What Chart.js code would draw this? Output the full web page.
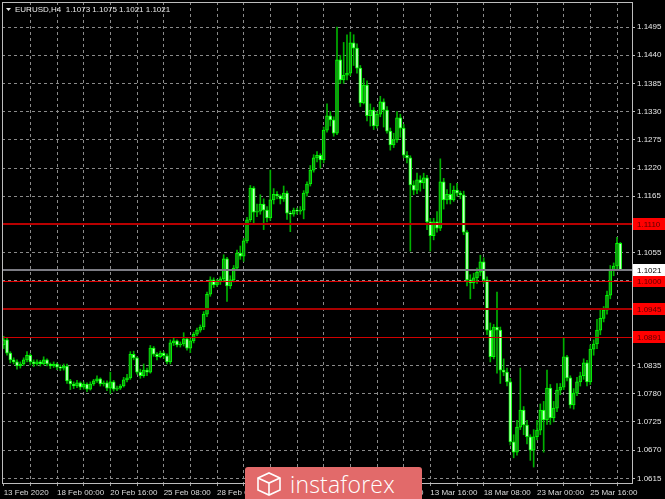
<!DOCTYPE html>
<html>
<head>
<meta charset="utf-8">
<script src="https://cdn.jsdelivr.net/npm/chart.js@4.4.0/dist/chart.umd.min.js"></script>
<style>
  html, body { margin: 0; padding: 0; background: #000; }
  #wrap { position: relative; width: 665px; height: 499px; overflow: hidden; }
  #logo {
    position: absolute; left: 245px; top: 467px; width: 177px; height: 40px;
    background: #e26a6a; border-radius: 3px; color: #fff;
    font-family: "Open Sans", sans-serif; font-size: 23px; font-weight: 300;
  }
  #logo svg { position: absolute; left: 10px; top: 5px; }
  #logo span { position: absolute; left: 45px; top: 1px; letter-spacing: 0.2px; }
</style>
</head>
<body>
<div id="wrap">
  <canvas id="chart" width="665" height="499"></canvas>
  <div id="logo">
    <svg width="28" height="24" viewBox="0 0 28 24" fill="none" stroke="#fff" stroke-width="1.6">
      <path d="M3 6 L14 1 L25 6 L25 18 L14 23 L3 18 Z"/>
      <path d="M3 6 L14 11 L25 6 M14 11 L14 23"/>
    </svg>
    <span>instaforex</span>
  </div>
</div>
<script>
// EURUSD H4, 13 Feb 2020 - 27 Mar 2020
const symbol = 'EURUSD,H4';

const opens = [
  1.0875,1.0885,1.0859,1.0846,1.0842,1.0834,1.0838,1.0846,1.0855,1.0842,
  1.0838,1.0842,1.0838,1.0846,1.0838,1.0834,1.0838,1.0832,1.0830,1.0834,
  1.0805,1.0799,1.0795,1.0801,1.0793,1.0799,1.0789,1.0799,1.0805,1.0809,
  1.0799,1.0801,1.0791,1.0803,1.0789,1.0791,1.0795,1.0807,1.0811,1.0857,
  1.0850,1.0822,1.0815,1.0826,1.0822,1.0869,1.0857,1.0852,1.0859,1.0854,
  1.0842,1.0879,1.0883,1.0875,1.0877,1.0887,1.0869,1.0883,1.0896,1.0904,
  1.0910,1.0935,1.0974,1.1002,1.0992,1.0998,1.1004,1.1043,1.0990,1.1002,
  1.1025,1.1054,1.1048,1.1078,1.1119,1.1181,1.1134,1.1136,1.1150,1.1138,
  1.1123,1.1158,1.1169,1.1166,1.1160,1.1171,1.1132,1.1130,1.1138,1.1136,
  1.1138,1.1171,1.1189,1.1216,1.1240,1.1245,1.1236,1.1294,1.1322,1.1314,
  1.1288,1.1431,1.1392,1.1401,1.1405,1.1464,1.1454,1.1415,1.1347,1.1382,
  1.1322,1.1333,1.1302,1.1325,1.1349,1.1333,1.1292,1.1265,1.1275,1.1318,
  1.1298,1.1245,1.1240,1.1187,1.1177,1.1197,1.1191,1.1201,1.1115,1.1088,
  1.1115,1.1103,1.1193,1.1158,1.1169,1.1158,1.1177,1.1171,1.1168,1.1095,
  1.1002,1.0996,1.1006,1.1017,1.1037,1.1002,1.0904,1.0852,1.0910,1.0904,
  1.0826,1.0822,1.0803,1.0686,1.0666,1.0715,1.0748,1.0719,1.0696,1.0670,
  1.0696,1.0709,1.0748,1.0729,1.0791,1.0733,1.0752,1.0787,1.0793,1.0852,
  1.0811,1.0758,1.0781,1.0803,1.0815,1.0840,1.0803,1.0867,1.0877,1.0904,
  1.0927,1.0943,1.0972,1.1021,1.1029,1.1073
];
const highs = [
  1.0892,1.0888,1.0862,1.0850,1.0846,1.0842,1.0850,1.0862,1.0858,1.0846,
  1.0846,1.0845,1.0852,1.0848,1.0840,1.0842,1.0840,1.0836,1.0838,1.0838,
  1.0808,1.0803,1.0806,1.0803,1.0803,1.0801,1.0803,1.0808,1.0815,1.0811,
  1.0805,1.0805,1.0822,1.0806,1.0795,1.0798,1.0812,1.0818,1.0862,1.0863,
  1.0852,1.0828,1.0838,1.0830,1.0874,1.0872,1.0860,1.0863,1.0862,1.0858,
  1.0885,1.0889,1.0885,1.0881,1.0899,1.0890,1.0887,1.0900,1.0908,1.0914,
  1.0940,1.0978,1.1008,1.1006,1.1003,1.1008,1.1051,1.1046,1.1010,1.1030,
  1.1060,1.1068,1.1083,1.1124,1.1186,1.1184,1.1150,1.1168,1.1160,1.1145,
  1.1216,1.1180,1.1174,1.1168,1.1185,1.1175,1.1136,1.1142,1.1142,1.1145,
  1.1176,1.1193,1.1225,1.1246,1.1252,1.1248,1.1300,1.1345,1.1330,1.1320,
  1.1495,1.1440,1.1465,1.1480,1.1485,1.1480,1.1462,1.1420,1.1395,1.1390,
  1.1345,1.1338,1.1330,1.1360,1.1355,1.1340,1.1298,1.1288,1.1330,1.1325,
  1.1305,1.1252,1.1244,1.1195,1.1210,1.1205,1.1210,1.1206,1.1122,1.1122,
  1.1135,1.1238,1.1200,1.1178,1.1190,1.1185,1.1190,1.1175,1.1175,1.1098,
  1.1012,1.1015,1.1025,1.1050,1.1045,1.1008,1.0918,1.0915,1.0978,1.0910,
  1.0848,1.0830,1.0810,1.0700,1.0728,1.0830,1.0755,1.0728,1.0700,1.0710,
  1.0728,1.0760,1.0765,1.0826,1.0798,1.0765,1.0800,1.0800,1.0888,1.0855,
  1.0815,1.0790,1.0812,1.0822,1.0848,1.0845,1.0875,1.0885,1.0925,1.0945,
  1.0950,1.0980,1.1030,1.1035,1.1085,1.1075
];
const lows = [
  1.0868,1.0855,1.0840,1.0838,1.0828,1.0830,1.0835,1.0842,1.0836,1.0833,
  1.0835,1.0834,1.0836,1.0834,1.0829,1.0831,1.0827,1.0825,1.0826,1.0800,
  1.0788,1.0790,1.0792,1.0788,1.0789,1.0784,1.0787,1.0796,1.0802,1.0795,
  1.0795,1.0786,1.0780,1.0785,1.0786,1.0788,1.0793,1.0803,1.0808,1.0846,
  1.0818,1.0810,1.0812,1.0815,1.0820,1.0853,1.0846,1.0850,1.0849,1.0838,
  1.0838,1.0874,1.0871,1.0871,1.0873,1.0865,1.0860,1.0879,1.0893,1.0900,
  1.0905,1.0930,1.0970,1.0987,1.0989,1.0993,1.0998,1.0960,1.0985,1.0998,
  1.1020,1.1042,1.1038,1.1074,1.1115,1.1110,1.1125,1.1130,1.1100,1.1115,
  1.1118,1.1150,1.1160,1.1150,1.1155,1.1120,1.1096,1.1126,1.1130,1.1130,
  1.1121,1.1165,1.1185,1.1212,1.1232,1.1220,1.1230,1.1290,1.1302,1.1282,
  1.1285,1.1385,1.1385,1.1392,1.1400,1.1420,1.1405,1.1340,1.1345,1.1312,
  1.1302,1.1295,1.1298,1.1320,1.1300,1.1288,1.1255,1.1260,1.1270,1.1280,
  1.1240,1.1230,1.1058,1.1168,1.1170,1.1175,1.1180,1.1100,1.1058,1.1080,
  1.1095,1.1098,1.1140,1.1150,1.1150,1.1155,1.1165,1.1160,1.1090,1.0990,
  1.0965,1.0985,1.0995,1.1010,1.0995,1.0895,1.0842,1.0848,1.0820,1.0800,
  1.0815,1.0795,1.0680,1.0655,1.0660,1.0710,1.0700,1.0682,1.0650,1.0637,
  1.0690,1.0700,1.0666,1.0720,1.0720,1.0725,1.0745,1.0778,1.0788,1.0805,
  1.0752,1.0750,1.0776,1.0795,1.0808,1.0795,1.0798,1.0855,1.0868,1.0895,
  1.0920,1.0935,1.0965,1.1010,1.1020,1.1021
];
const closes = [
  1.0885,1.0859,1.0846,1.0842,1.0834,1.0838,1.0846,1.0855,1.0842,1.0838,
  1.0842,1.0838,1.0846,1.0838,1.0834,1.0838,1.0832,1.0830,1.0834,1.0805,
  1.0799,1.0795,1.0801,1.0793,1.0799,1.0789,1.0799,1.0805,1.0809,1.0799,
  1.0801,1.0791,1.0803,1.0789,1.0791,1.0795,1.0807,1.0811,1.0857,1.0850,
  1.0822,1.0815,1.0826,1.0822,1.0869,1.0857,1.0852,1.0859,1.0854,1.0842,
  1.0879,1.0883,1.0875,1.0877,1.0887,1.0869,1.0883,1.0896,1.0904,1.0910,
  1.0935,1.0974,1.1002,1.0992,1.0998,1.1004,1.1043,1.0990,1.1002,1.1025,
  1.1054,1.1048,1.1078,1.1119,1.1181,1.1134,1.1136,1.1150,1.1138,1.1123,
  1.1158,1.1169,1.1166,1.1160,1.1171,1.1132,1.1130,1.1138,1.1136,1.1138,
  1.1171,1.1189,1.1216,1.1240,1.1245,1.1236,1.1294,1.1322,1.1314,1.1288,
  1.1431,1.1392,1.1401,1.1405,1.1464,1.1454,1.1415,1.1347,1.1382,1.1322,
  1.1333,1.1302,1.1325,1.1349,1.1333,1.1292,1.1265,1.1275,1.1318,1.1298,
  1.1245,1.1240,1.1187,1.1177,1.1197,1.1191,1.1201,1.1115,1.1088,1.1115,
  1.1103,1.1193,1.1158,1.1169,1.1158,1.1177,1.1171,1.1168,1.1095,1.1002,
  1.0996,1.1006,1.1017,1.1037,1.1002,1.0904,1.0852,1.0910,1.0904,1.0826,
  1.0822,1.0803,1.0686,1.0666,1.0715,1.0748,1.0719,1.0696,1.0670,1.0696,
  1.0709,1.0748,1.0729,1.0791,1.0733,1.0752,1.0787,1.0793,1.0852,1.0811,
  1.0758,1.0781,1.0803,1.0815,1.0840,1.0803,1.0867,1.0877,1.0904,1.0927,
  1.0943,1.0972,1.1021,1.1029,1.1073,1.1021
];

// time axis labels, one every 16 bars
const timeLabels = ['13 Feb 2020', '18 Feb 00:00', '20 Feb 16:00', '25 Feb 08:00', '28 Feb 00:00',
  '03 Mar 16:00', '06 Mar 08:00', '11 Mar 00:00', '13 Mar 16:00', '18 Mar 08:00', '23 Mar 00:00', '25 Mar 16:00'];
const priceTicks = [1.1495, 1.1440, 1.1385, 1.1330, 1.1275, 1.1220, 1.1165, 1.1110, 1.1055,
  1.1000, 1.0945, 1.0890, 1.0835, 1.0780, 1.0725, 1.0670, 1.0615];
const levels = [1.1110, 1.1000, 1.0945, 1.0891];
const lastPrice = 1.1021;

const levelStyle = [
  { color: '#b80000', width: 2 },
  { color: '#e00000', width: 1 },
  { color: '#a80000', width: 2 },
  { color: '#d00000', width: 1 }
];
const font = "'Liberation Sans', sans-serif";

const slots = [];
for (let i = 0; i < closes.length + 3; i++) slots.push(i);

const overlay = {
  id: 'overlay',
  afterDatasetsDraw(chart) {
    const { ctx, chartArea: a, scales: { y } } = chart;
    ctx.save();
    // current price line
    let py = Math.round(y.getPixelForValue(lastPrice));
    ctx.strokeStyle = '#7c7c84';
    ctx.lineWidth = 2;
    ctx.beginPath(); ctx.moveTo(a.left, py); ctx.lineTo(a.right, py); ctx.stroke();
    levels.forEach((lv, k) => {
      const s = levelStyle[k];
      const p = Math.round(y.getPixelForValue(lv)) + (s.width === 1 ? 0.5 : 0);
      ctx.strokeStyle = s.color;
      ctx.lineWidth = s.width;
      ctx.beginPath(); ctx.moveTo(a.left, p); ctx.lineTo(a.right, p); ctx.stroke();
    });
    ctx.restore();
  },
  afterDraw(chart) {
    const { ctx, chartArea: a, scales: { y } } = chart;
    ctx.save();
    // frame
    ctx.strokeStyle = '#bdbdbd';
    ctx.lineWidth = 1;
    ctx.strokeRect(a.left + 0.5, a.top + 0.5, a.width, a.height);
    // price labels on the right
    ctx.font = '8px ' + font;
    ctx.textBaseline = 'middle';
    const box = (v, bg, fg) => {
      const p = Math.round(y.getPixelForValue(v));
      ctx.fillStyle = bg;
      ctx.fillRect(a.right + 1, p - 6, 32, 12);
      ctx.fillStyle = fg;
      ctx.fillText(v.toFixed(4), a.right + 5, p + 0.5);
    };
    levels.forEach(lv => box(lv, '#ff0000', '#5a0000'));
    box(lastPrice, '#ffffff', '#000000');
    // header
    const n = closes.length - 1;
    ctx.fillStyle = '#e8e8e8';
    ctx.beginPath(); ctx.moveTo(6, 8); ctx.lineTo(11, 8); ctx.lineTo(8.5, 11); ctx.closePath(); ctx.fill();
    ctx.fillText(symbol + '  ' + [opens[n], highs[n], lows[n], closes[n]].map(v => v.toFixed(4)).join(' '), 15, 9.5);
    ctx.restore();
  }
};

new Chart(document.getElementById('chart'), {
  type: 'bar',
  data: {
    labels: slots,
    datasets: [
      {
        label: 'body',
        data: opens.map((o, i) => [o, closes[i]]),
        backgroundColor: closes.map((c, i) => c < opens[i] ? '#c8ffc8' : '#148c14'),
        borderColor: '#00ff00',
        borderWidth: 1,
        borderSkipped: false,
        barThickness: 3,
        minBarLength: 1,
        grouped: false,
        order: 1
      },
      {
        label: 'wick',
        data: lows.map((l, i) => [l, highs[i]]),
        backgroundColor: '#00b000',
        barThickness: 1,
        grouped: false,
        order: 2
      }
    ]
  },
  options: {
    responsive: false,
    devicePixelRatio: 1,
    animation: false,
    layout: { padding: { top: 2, left: 2, right: 0, bottom: 0 } },
    plugins: { legend: { display: false }, tooltip: { enabled: false } },
    scales: {
      x: {
        offset: true,
        grid: {
          offset: false,
          color: c => (c.index % 8 === 0 && c.index > 0) ? '#8a8a8a' : 'rgba(0,0,0,0)',
          tickColor: c => c.index % 8 === 0 ? '#9a9a9a' : 'rgba(0,0,0,0)',
          tickLength: 3,
          lineWidth: 1
        },
        border: { display: false, dash: [3, 3] },
        ticks: {
          autoSkip: false, maxRotation: 0, minRotation: 0, align: 'start', padding: 2,
          color: '#dcdcdc', font: { family: font, size: 8 },
          callback: (v, i) => i % 16 === 0 ? (timeLabels[i / 16] || '') : ''
        },
        afterFit: s => { s.height = 16; s.paddingLeft = 0; s.paddingRight = 0; }
      },
      y: {
        position: 'right',
        min: 1.06059,
        max: 1.15438,
        grid: { color: '#8a8a8a', tickColor: '#bdbdbd', tickLength: 3, lineWidth: 1 },
        border: { display: false, dash: [3, 3] },
        afterBuildTicks: s => { s.ticks = priceTicks.map(v => ({ value: v })); },
        ticks: {
          padding: 2, color: '#e8e8e8', font: { family: font, size: 8 },
          callback: v => v.toFixed(4)
        },
        afterFit: s => { s.width = 33; s.paddingTop = 0; s.paddingBottom = 0; }
      }
    }
  },
  plugins: [overlay]
});
</script>
</body>
</html>
